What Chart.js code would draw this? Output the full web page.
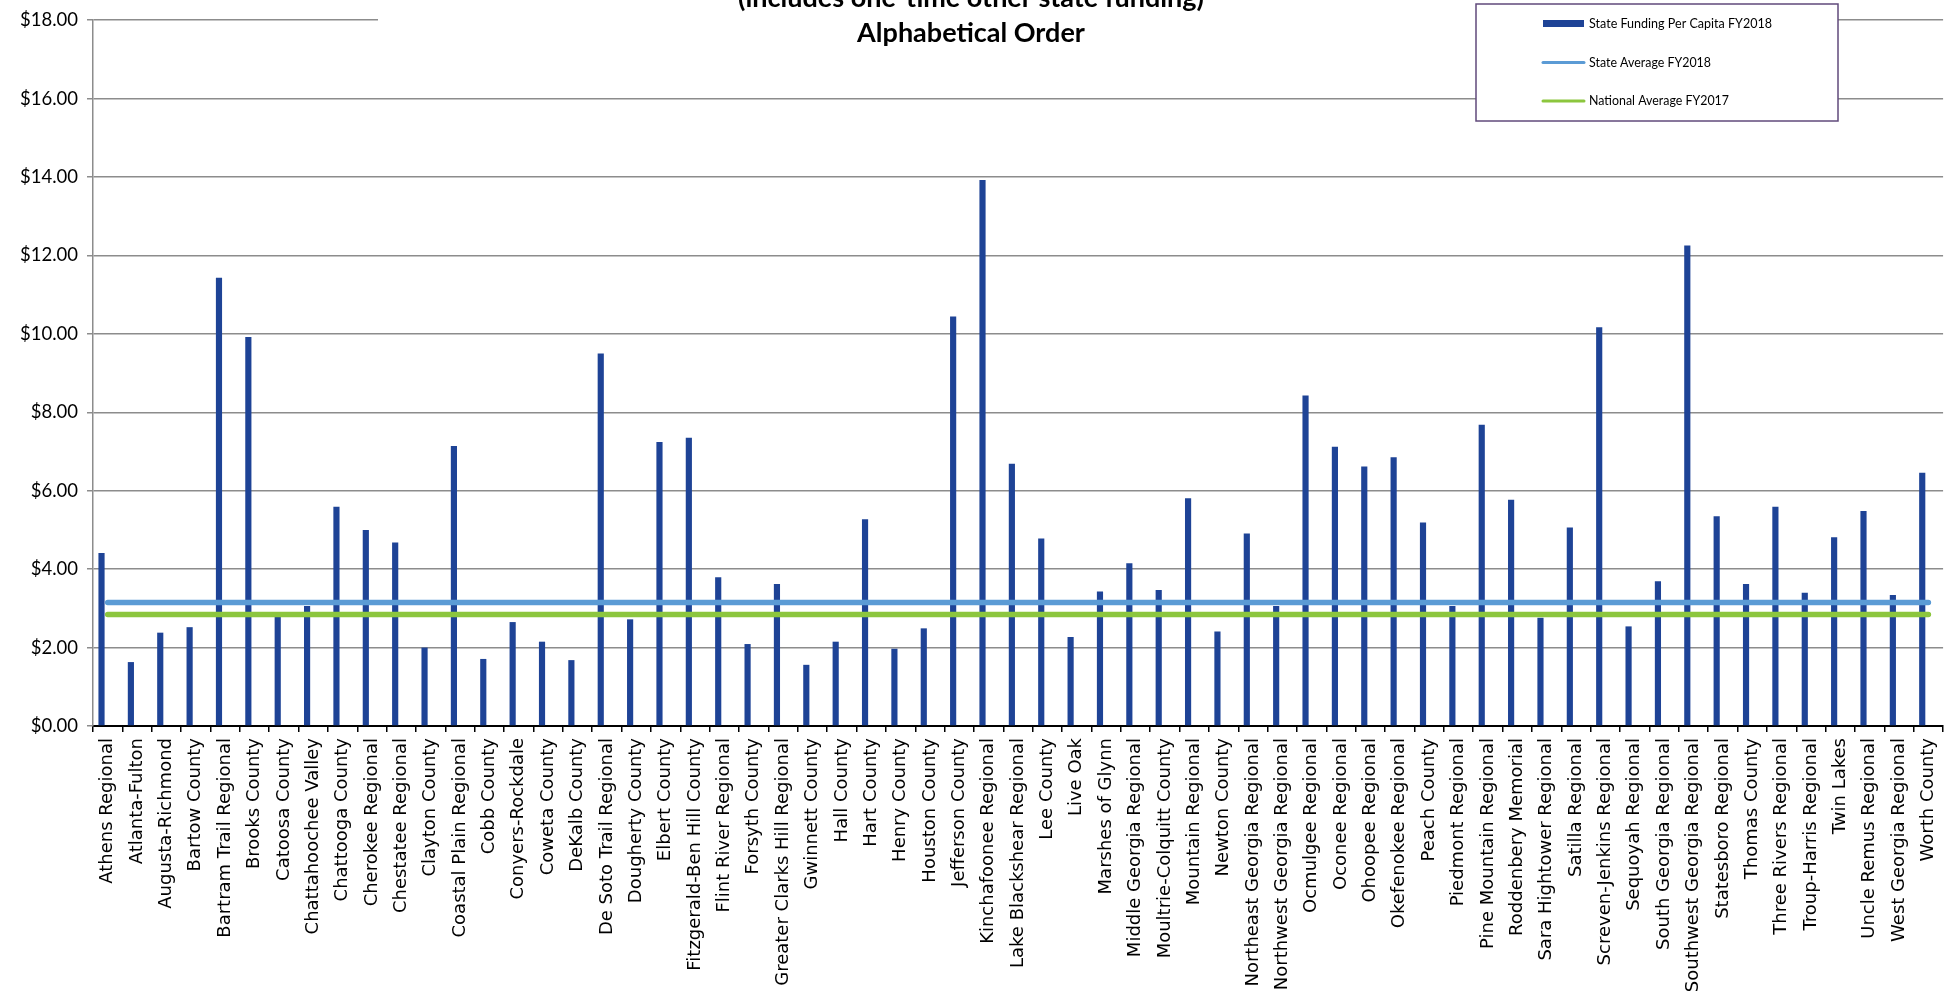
<!DOCTYPE html>
<html>
<head>
<meta charset="utf-8">
<script src="https://cdn.jsdelivr.net/npm/chart.js@4.4.1/dist/chart.umd.min.js"></script>
<style>
  html, body { margin: 0; padding: 0; background: #fff; overflow: hidden; }
  #chart { display: block; }
</style>
</head>
<body>
<canvas id="chart" width="1956" height="991"></canvas>
<script>
// data
const categories = [
  "Athens Regional", "Atlanta-Fulton", "Augusta-Richmond", "Bartow County", "Bartram Trail Regional",
  "Brooks County", "Catoosa County", "Chattahoochee Valley", "Chattooga County", "Cherokee Regional",
  "Chestatee Regional", "Clayton County", "Coastal Plain Regional", "Cobb County", "Conyers-Rockdale",
  "Coweta County", "DeKalb County", "De Soto Trail Regional", "Dougherty County", "Elbert County",
  "Fitzgerald-Ben Hill County", "Flint River Regional", "Forsyth County", "Greater Clarks Hill Regional", "Gwinnett County",
  "Hall County", "Hart County", "Henry County", "Houston County", "Jefferson County",
  "Kinchafoonee Regional", "Lake Blackshear Regional", "Lee County", "Live Oak", "Marshes of Glynn",
  "Middle Georgia Regional", "Moultrie-Colquitt County", "Mountain Regional", "Newton County", "Northeast Georgia Regional",
  "Northwest Georgia Regional", "Ocmulgee Regional", "Oconee Regional", "Ohoopee Regional", "Okefenokee Regional",
  "Peach County", "Piedmont Regional", "Pine Mountain Regional", "Roddenbery Memorial", "Sara Hightower Regional",
  "Satilla Regional", "Screven-Jenkins Regional", "Sequoyah Regional", "South Georgia Regional", "Southwest Georgia Regional",
  "Statesboro Regional", "Thomas County", "Three Rivers Regional", "Troup-Harris Regional", "Twin Lakes",
  "Uncle Remus Regional", "West Georgia Regional", "Worth County"
];

const fundingPerCapita = [
  4.41, 1.63, 2.38, 2.52, 11.43,
  9.92, 2.78, 3.06, 5.59, 5.00,
  4.68, 2.00, 7.14, 1.71, 2.65,
  2.15, 1.68, 9.50, 2.72, 7.24,
  7.35, 3.79, 2.09, 3.62, 1.56,
  2.15, 5.27, 1.97, 2.49, 10.44,
  13.92, 6.69, 4.78, 2.27, 3.43,
  4.15, 3.47, 5.81, 2.41, 4.91,
  3.06, 8.43, 7.12, 6.62, 6.85,
  5.19, 3.06, 7.68, 5.77, 2.76,
  5.06, 10.17, 2.54, 3.69, 12.25,
  5.35, 3.62, 5.59, 3.40, 4.81,
  5.48, 3.34, 6.46
];

const stateAverage = 3.15;
const nationalAverage = 2.84;

const yMin = 0, yMax = 18, yStep = 2;

const seriesLabels = ["State Funding Per Capita FY2018", "State Average FY2018", "National Average FY2017"];
const titleLines = ["(includes one-time other state funding)", "Alphabetical Order"];

const barColor = "#1E4396";
const stateColor = "#5B9BD5";
const nationalColor = "#8CC63E";
const gridColor = "#8c8c8c";

// title overlay, white box behind it like the original
const titlePlugin = {
  id: "overlayTitle",
  afterDraw(chart) {
    const c = chart.ctx;
    c.save();
    c.fillStyle = "#fff";
    c.fillRect(378, -40, 1186, 92);
    c.fillStyle = "#000";
    c.textAlign = "center";
    c.textBaseline = "alphabetic";
    c.font = "bold 27px Lato";
    c.fillText(titleLines[0], 971, 7, 500);
    c.fillText(titleLines[1], 971, 42, 233);
    c.restore();
  }
};

// legend box drawn inside the plot, top right
const legendPlugin = {
  id: "boxLegend",
  afterDraw(chart) {
    const c = chart.ctx;
    const ds = chart.data.datasets;
    const items = [ds[2], ds[0], ds[1]];
    const rows = [23.5, 62.5, 101];
    const widths = [183, 122, 140];
    c.save();
    c.fillStyle = "#fff";
    c.fillRect(1476, 4, 362, 117);
    c.strokeStyle = "#604a7b";
    c.lineWidth = 1.5;
    c.strokeRect(1476, 4, 362, 117);
    items.forEach((d, i) => {
      const y = rows[i];
      if (d.type === "bar") {
        c.fillStyle = d.backgroundColor;
        c.fillRect(1543, y - 3.5, 41, 7);
      } else {
        c.strokeStyle = d.borderColor;
        c.lineWidth = 3;
        c.lineCap = "round";
        c.beginPath();
        c.moveTo(1543, y);
        c.lineTo(1584, y);
        c.stroke();
      }
      c.fillStyle = "#000";
      c.font = "13px Lato";
      c.textAlign = "left";
      c.textBaseline = "middle";
      c.fillText(d.label, 1589, y, widths[i]);
    });
    c.restore();
  }
};

const ctx = document.getElementById("chart").getContext("2d");

new Chart(ctx, {
  data: {
    labels: categories,
    datasets: [
      {
        type: "line",
        label: seriesLabels[1],
        data: [{ x: categories[0], y: stateAverage }, { x: categories[categories.length - 1], y: stateAverage }],
        borderColor: stateColor,
        borderWidth: 5.5,
        borderCapStyle: "round",
        pointRadius: 0,
        order: -1
      },
      {
        type: "line",
        label: seriesLabels[2],
        data: [{ x: categories[0], y: nationalAverage }, { x: categories[categories.length - 1], y: nationalAverage }],
        borderColor: nationalColor,
        borderWidth: 5.5,
        borderCapStyle: "round",
        pointRadius: 0,
        order: -1
      },
      {
        type: "bar",
        label: seriesLabels[0],
        data: fundingPerCapita,
        backgroundColor: barColor,
        categoryPercentage: 0.84,
        barPercentage: 0.5
      },
      {
        // empty slot so the bar sits left in its category, as in the original
        type: "bar",
        label: "",
        data: [],
        categoryPercentage: 0.84,
        barPercentage: 0.5
      }
    ]
  },
  options: {
    responsive: false,
    animation: false,
    layout: { padding: { top: 17, left: 0, right: 0, bottom: 0 } },
    plugins: {
      legend: { display: false },
      title: { display: false },
      tooltip: { enabled: false }
    },
    scales: {
      x: {
        type: "category",
        offset: true,
        afterFit(scale) { scale.height = 265; },
        grid: {
          offset: true,
          drawOnChartArea: false,
          drawTicks: true,
          tickLength: 6,
          color: "#000",
          lineWidth: 1.5
        },
        border: { color: "#000", width: 2 },
        ticks: {
          autoSkip: false,
          maxRotation: 90,
          minRotation: 90,
          padding: 6,
          color: "#000",
          font: { family: "DejaVu Sans", size: 18 }
        }
      },
      y: {
        min: yMin,
        max: yMax,
        afterFit(scale) { scale.width = 93; },
        grid: { color: gridColor, lineWidth: 1.5, tickLength: 6 },
        border: { color: gridColor, width: 1.5 },
        ticks: {
          stepSize: yStep,
          padding: 9,
          color: "#000",
          font: { family: "Lato", size: 18.5 },
          callback: v => "$" + Number(v).toFixed(2)
        }
      }
    }
  },
  plugins: [titlePlugin, legendPlugin]
});
</script>
</body>
</html>
